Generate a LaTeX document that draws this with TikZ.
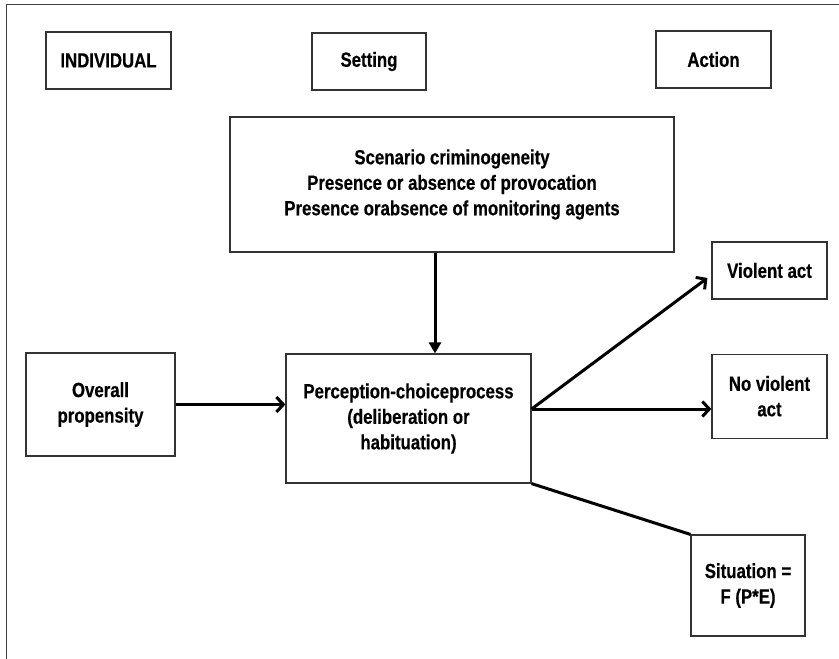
\documentclass[tikz,border=0pt]{standalone}
\usepackage{fontspec}
\setmainfont{Liberation Sans}[FakeStretch=0.82, BoldFeatures={FakeBold=0.4}]
\usepackage{tikz}
\usetikzlibrary{positioning, arrows.meta}
\tikzset{x=1pt, y=-1pt, % One unit is one pixel of the sketch, y runs down
box/.style={ % Sets the properties for each framed text
draw=black!80, line width=1.2pt,
align=center, inner sep=0pt,
font=\fontsize{20.5}{25.5}\selectfont\bfseries},
flow/.style={ % Sets the properties for each connector
draw, line width=3pt,
>={Straight Barb[length=7pt, width=15pt]}}}
\begin{document}
\begin{tikzpicture}

    \useasboundingbox (0,0) rectangle (839,659);
    \draw[black!75, line width=1.5pt] (6.7,659) -- (6.7,4.7) -- (839,4.7);

    \node[box, minimum width=125pt, minimum height=57pt] (indiv) at (108.5,60.5) {INDIVIDUAL};
    \node[box, minimum width=114pt, minimum height=57pt] (setting) at (369,61.5) {Setting};
    \node[box, minimum width=115pt, minimum height=57pt] (action) at (713.5,59.5) {Action};

    \node[box, minimum width=444pt, minimum height=135pt] (scen) at (452,184.5)
        {Scenario criminogeneity\\Presence or absence of provocation\\Presence orabsence of monitoring agents};
    \node[box, minimum width=149pt, minimum height=103pt] (overall) at (100.5,404.5) {Overall\\propensity};
    \node[box, minimum width=245pt, minimum height=129pt] (percep) at (408.5,418.5)
        {Perception-choiceprocess\\(deliberation or\\habituation)};

    \node[box, minimum width=115pt, minimum height=57pt] (viol) at (769.5,270.5) {Violent act};
    \node[box, minimum width=115pt, minimum height=84pt, below=54pt of viol] (noviol) {No violent\\act};
    \node[box, minimum width=114pt, minimum height=101pt] (situ) at (748,585.5) {Situation =\\F (P*E)};

    \coordinate (fork) at ([yshift=9.5pt]percep.east);

    \draw[flow, -{Triangle[length=11pt, width=12pt]}] ([xshift=-17pt]scen.south) -- ([xshift=26.5pt]percep.north);
    \draw[flow, ->] (overall.east) -- (overall.east -| percep.west);
    \draw[flow, ->] (fork) -- ([xshift=-4pt, yshift=-7.5pt]viol.west);
    \draw[flow, ->] (fork) -- (fork -| noviol.west);
    \draw[flow] (percep.south east) -- (situ.north west);

\end{tikzpicture}
\end{document}
